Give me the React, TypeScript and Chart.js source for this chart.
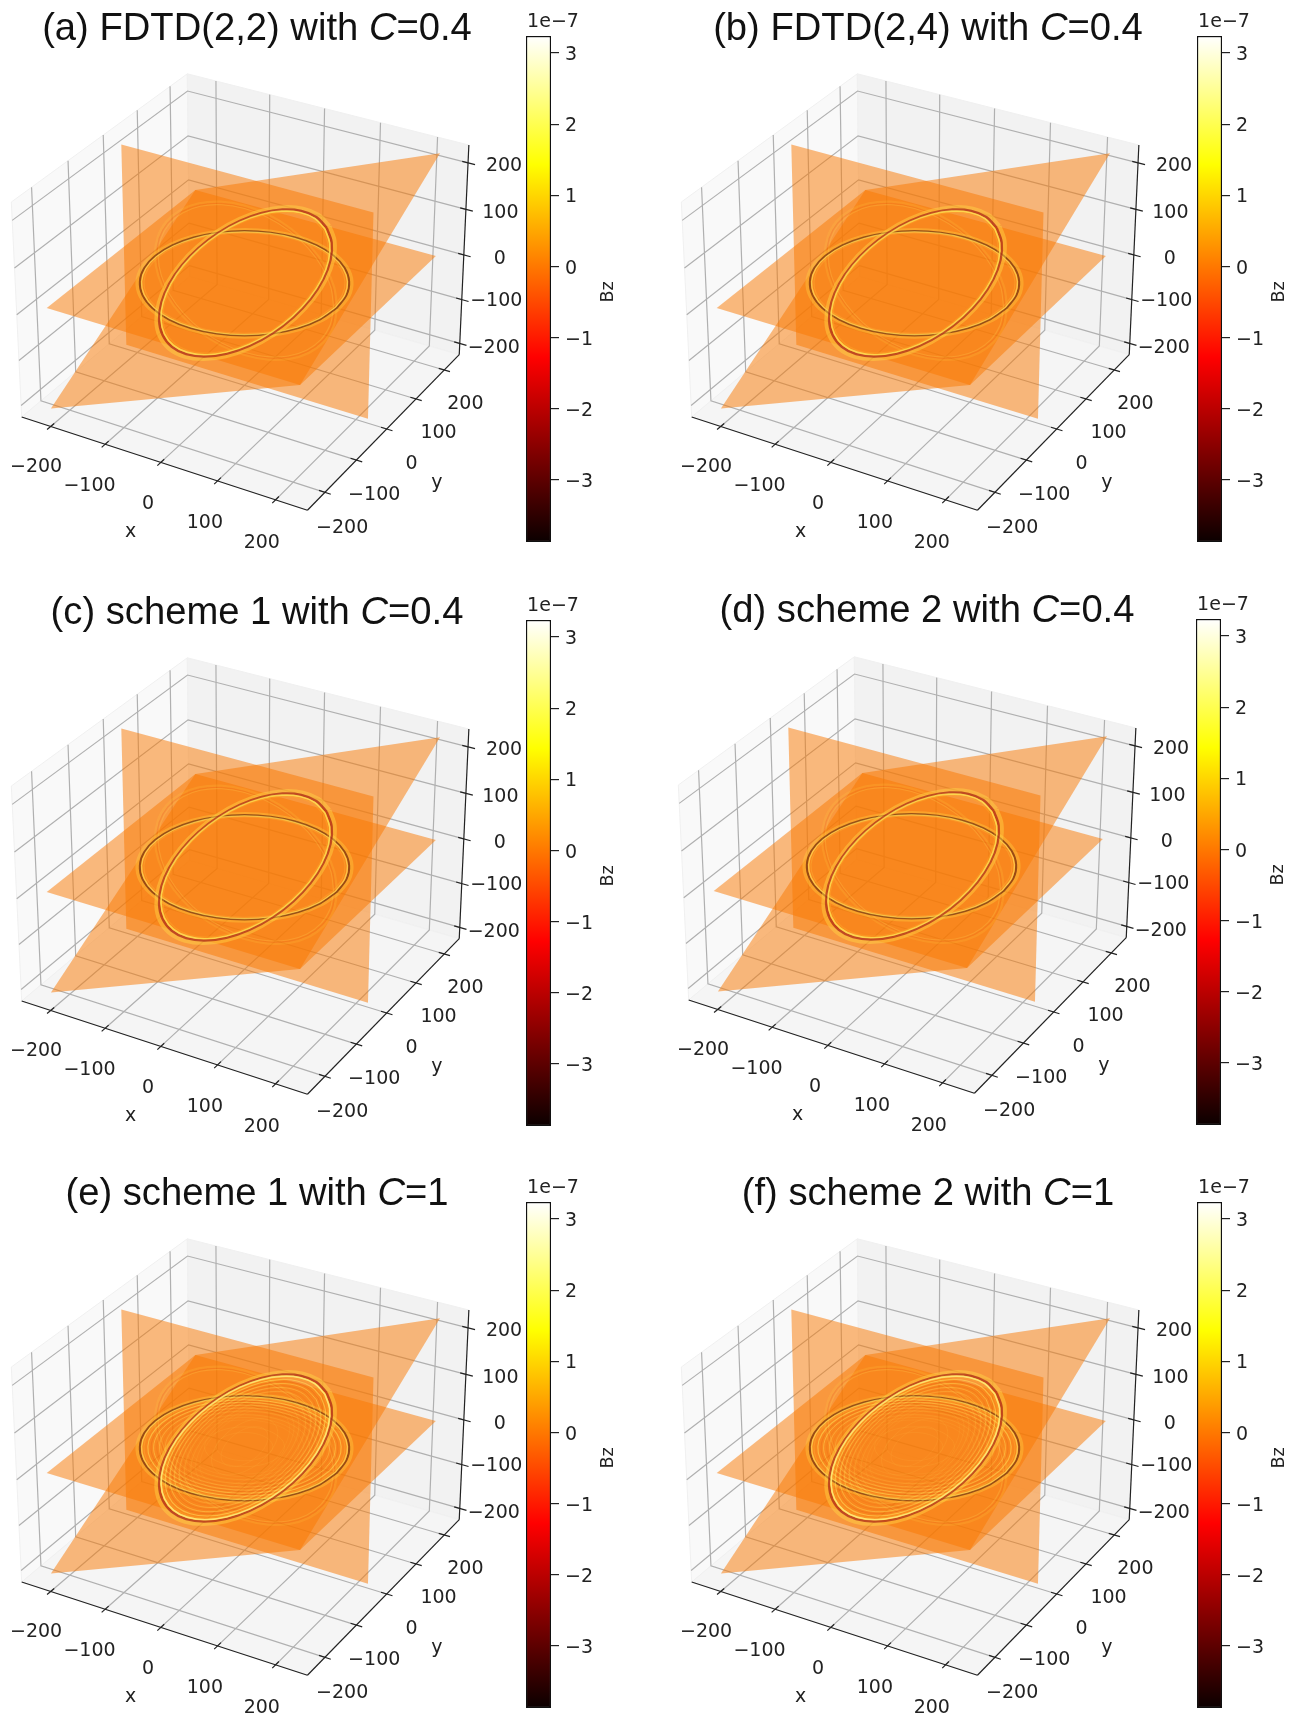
import React, { useEffect, useRef } from "react";
import { Chart, registerables } from "chart.js";
Chart.register(...registerables);

const SANS = '"DejaVu Sans"';
const xTicks = [-200, -100, 0, 100, 200];
const yTicks = [-200, -100, 0, 100, 200];
const zTicks = [-200, -100, 0, 100, 200];
const cbTicks = [-3, -2, -1, 0, 1, 2, 3];
const cbMin = -3.87;
const cbMax = 3.24;
const xLim = 254, yLim = 254, zLow = -226, zHigh = 238;
const planeHalf = 221, planeLow = -216, planeHigh = 228, planeMid = 6;
const hotStops: [number, string][] = [[0, "#0b0000"], [0.365, "#ff0000"], [0.746, "#ffff00"], [1, "#ffffff"]];

// plane corners (x,y,z)
const planeFlat = [[-planeHalf, -planeHalf, planeMid], [planeHalf, -planeHalf, planeMid], [planeHalf, planeHalf, planeMid], [-planeHalf, planeHalf, planeMid]];
const planeVertical = [[-planeHalf, 0, planeHigh], [planeHalf, 0, planeHigh], [planeHalf, 0, planeLow], [-planeHalf, 0, planeLow]];
const planeTilted = [[-planeHalf, -planeHalf, planeLow], [planeHalf, -planeHalf, planeMid], [planeHalf, planeHalf, planeHigh], [-planeHalf, planeHalf, planeMid]];

// in-plane axes of each wave-front ring
const flatAxes = [[1, 0, 0], [0, 1, 0]];
const verticalAxes = [[1, 0, 0], [0, 0, 1]];
const tiltedAxes = [[0.577, 0.577, 0.577], [0.707, -0.707, 0]];

// wave-front outline: direction table around the ring
const ringDirs = [
  [1, 0], [0.966, 0.259], [0.866, 0.5], [0.707, 0.707], [0.5, 0.866], [0.259, 0.966],
  [0, 1], [-0.259, 0.966], [-0.5, 0.866], [-0.707, 0.707], [-0.866, 0.5], [-0.966, 0.259],
  [-1, 0], [-0.966, -0.259], [-0.866, -0.5], [-0.707, -0.707], [-0.5, -0.866], [-0.259, -0.966],
  [0, -1], [0.259, -0.966], [0.5, -0.866], [0.707, -0.707], [0.866, -0.5], [0.966, -0.259], [1, 0],
];

const flatRings: [number, string, number][] = [
  [166.5, "rgba(255,215,70,.35)", 3.5], [162.5, "rgba(115,50,15,.72)", 1.9], [159.6, "rgba(255,225,90,.7)", 1.3], [156, "rgba(255,190,60,.3)", 1.2],
];
const verticalRings: [number, string, number][] = [
  [163, "rgba(255,210,70,.16)", 2.5], [160, "rgba(225,85,30,.18)", 1.1], [157, "rgba(255,220,90,.22)", 1.1],
];
const tiltedRings: [number, string, number][] = [
  [166.5, "rgba(255,215,70,.45)", 4.5], [161.5, "rgba(175,45,25,.75)", 2.6], [158, "rgba(255,225,80,.85)", 1.7], [154.5, "rgba(255,170,40,.4)", 1.3],
];
const rippleRings: [number, string, number][] = [
  [150, "rgba(255,225,90,.55)", 1.1], [145, "rgba(220,80,20,.3)", 0.9], [141, "rgba(255,225,90,.45)", 1], [136, "rgba(225,90,20,.25)", 0.9],
  [132, "rgba(255,220,90,.38)", 0.9], [127, "rgba(230,90,20,.2)", 0.9], [123, "rgba(255,215,90,.3)", 0.9], [118, "rgba(230,90,20,.16)", 0.9],
  [113, "rgba(255,210,80,.22)", 0.9], [107, "rgba(230,90,20,.13)", 0.9], [101, "rgba(255,205,80,.17)", 0.9], [92, "rgba(255,205,80,.13)", 0.9],
  [84, "rgba(255,200,80,.1)", 0.9], [62, "rgba(255,190,70,.14)", 1], [44, "rgba(255,190,70,.12)", 1],
];
const brightRings: [number, string, number][] = [[157.5, "rgba(255,245,150,.5)", 1.5]];

const panels = [
  { a: "(a) FDTD(2,2) with ", b: "=0.4", tx: 257, ty: 27, dx: 0, dy: 0, cdx: 0, cdy: 0, ripple: false },
  { a: "(b) FDTD(2,4) with ", b: "=0.4", tx: 928, ty: 27, dx: 670, dy: 0, cdx: 671, cdy: 0, ripple: false },
  { a: "(c) scheme 1 with ", b: "=0.4", tx: 257, ty: 611, dx: 0, dy: 584, cdx: 0, cdy: 584, ripple: false },
  { a: "(d) scheme 2 with ", b: "=0.4", tx: 927, ty: 609, dx: 667, dy: 583, cdx: 670, cdy: 583, ripple: false },
  { a: "(e) scheme 1 with ", b: "=1", tx: 257, ty: 1192, dx: 0, dy: 1165, cdx: 0, cdy: 1166, ripple: true },
  { a: "(f) scheme 2 with ", b: "=1", tx: 928, ty: 1192, dx: 670, dy: 1165, cdx: 671, cdy: 1166, ripple: true },
];

const W = 540, H = 570;
const pxX = 275, cxPx = 244.5, pxY = 274.5, cyPx = 281.5;

function project(x: number, y: number, z: number) {
  const zMid = (zLow + zHigh) / 2, zHalf = (zHigh - zLow) / 2;
  const px = (x / xLim) * 0.5952, py = (y / yLim) * 0.5952, pz = ((z - zMid) / zHalf) * 0.4464;
  const u = 0.866 * px + 0.5 * py;
  const v = -0.25 * px + 0.433 * py + 0.866 * pz;
  const w = 0.433 * px - 0.75 * py + 0.5 * pz;
  const s = 10 / (10 - w);
  return { x: u * s, y: v * s };
}
const path = (pts: number[][]) => pts.map((p) => project(p[0], p[1], p[2]));
const fmt = (v: number) => String(v).replace("-", "\u2212");

function line(pts: number[][], color: string, width: number, extra: any = {}) {
  return { data: path(pts), borderColor: color, borderWidth: width, pointRadius: 0, showLine: true, fill: false, tension: 0, clip: false, ...extra };
}
function poly(pts: number[][], fillCol: string, edge = "transparent") {
  return line([...pts, pts[0]], edge, edge === "transparent" ? 0 : 1, { fill: "shape", backgroundColor: fillCol });
}
function ring(axes: number[][], r: number, color: string, width: number) {
  const pts = ringDirs.map(([c, s]) => [
    r * (c * axes[0][0] + s * axes[1][0]),
    r * (c * axes[0][1] + s * axes[1][1]),
    planeMid + r * (c * axes[0][2] + s * axes[1][2]),
  ]);
  return line(pts, color, width, { tension: 0.35 });
}

function buildDatasets(ripple: boolean) {
  const L: any[] = [];
  const X = xLim, Y = yLim, Z0 = zLow, Z1 = zHigh;
  L.push(poly([[-X, -Y, Z0], [-X, Y, Z0], [-X, Y, Z1], [-X, -Y, Z1]], "rgb(249,249,249)", "rgb(240,240,240)"));
  L.push(poly([[-X, Y, Z0], [X, Y, Z0], [X, Y, Z1], [-X, Y, Z1]], "rgb(242,242,242)", "rgb(240,240,240)"));
  L.push(poly([[-X, -Y, Z0], [X, -Y, Z0], [X, Y, Z0], [-X, Y, Z0]], "rgb(245,245,245)", "rgb(240,240,240)"));
  const grid = "rgb(176,176,176)";
  xTicks.forEach((t) => L.push(line([[t, -Y, Z0], [t, Y, Z0], [t, Y, Z1]], grid, 1.2)));
  yTicks.forEach((t) => L.push(line([[X, t, Z0], [-X, t, Z0], [-X, t, Z1]], grid, 1.2)));
  zTicks.forEach((t) => L.push(line([[-X, -Y, t], [-X, Y, t], [X, Y, t]], grid, 1.2)));

  const orange = "rgba(250,120,0,0.5)";
  L.push(poly(planeTilted, orange));
  L.push(poly(planeFlat, orange));
  L.push(poly(planeVertical, orange));

  verticalRings.forEach(([r, c, w]) => L.push(ring(verticalAxes, r, c, w)));
  if (ripple) rippleRings.forEach(([r, c, w]) => L.push(ring(flatAxes, r, c, w)));
  flatRings.forEach(([r, c, w]) => L.push(ring(flatAxes, r, c, w)));
  if (ripple) rippleRings.forEach(([r, c, w]) => L.push(ring(tiltedAxes, r, c, w)));
  tiltedRings.forEach(([r, c, w]) => L.push(ring(tiltedAxes, r, c, w)));
  if (ripple) brightRings.forEach(([r, c, w]) => L.push(ring(tiltedAxes, r, c, w)));

  L.push(line([[-X, -Y, Z0], [X, -Y, Z0]], "#222", 1.2));
  L.push(line([[X, -Y, Z0], [X, Y, Z0]], "#222", 1.2));
  L.push(line([[X, Y, Z0], [X, Y, Z1]], "#222", 1.2));
  xTicks.forEach((t) => L.push(line([[t, -Y + 10, Z0], [t, -Y - 10, Z0]], "#222", 1.2)));
  yTicks.forEach((t) => L.push(line([[X - 10, t, Z0], [X + 10, t, Z0]], "#222", 1.2)));
  zTicks.forEach((t) => L.push(line([[X - 10, Y, t], [X + 12, Y, t]], "#222", 1.2)));
  return L.reverse();
}

const labelPlugin = {
  id: "labels3d",
  afterDraw(chart: any) {
    const { ctx, scales } = chart;
    const put = (txt: string, p: { x: number; y: number }, dx = 0, dy = 0) => {
      ctx.fillText(txt, scales.x.getPixelForValue(p.x) + dx, scales.y.getPixelForValue(p.y) + dy);
    };
    ctx.save();
    ctx.font = `19px ${SANS}`;
    ctx.fillStyle = "#222";
    ctx.textAlign = "center";
    ctx.textBaseline = "middle";
    const xNudge = [0, -1, 2, 2, 1];
    const yNudge = [-1, 0, 7.5, 5.5, 4.4];
    xTicks.forEach((t, i) => put(fmt(t), project(t, -yLim - 44, zLow - 62), xNudge[i]));
    yTicks.forEach((t, i) => put(fmt(t), project(xLim + 32, t, zLow - 66), yNudge[i]));
    const zShift = [34, 34.5, 36, 34.5, 36];
    const zDrop = [5, 2, 4, 4, 3];
    zTicks.forEach((t, i) => put(fmt(t), project(xLim, yLim, t), zShift[i], zDrop[i]));
    put("x", project(20, -yLim - 120, zLow - 60));
    put("y", project(xLim + 92, -20, zLow - 70), 4);
    ctx.restore();
  },
};

const colorbarPlugin = {
  id: "cbText",
  afterDraw(chart: any) {
    const { ctx } = chart;
    ctx.save();
    ctx.fillStyle = "#222";
    ctx.textBaseline = "middle";
    ctx.textAlign = "center";
    ctx.font = `19px ${SANS}`;
    ctx.fillText("1e\u22127", 33, 22);
    ctx.translate(88, 292);
    ctx.rotate(-Math.PI / 2);
    ctx.font = `17.5px ${SANS}`;
    ctx.fillText("Bz", 0, 0);
    ctx.restore();
  },
};

function Panel({ cfg }: { cfg: (typeof panels)[number] }) {
  const main = useRef<HTMLCanvasElement>(null);
  const bar = useRef<HTMLCanvasElement>(null);
  useEffect(() => {
    const c1 = new Chart(main.current!, {
      type: "scatter",
      data: { datasets: buildDatasets(cfg.ripple) },
      options: {
        animation: false, responsive: false, devicePixelRatio: 1,
        layout: { padding: 0, autoPadding: false },
        plugins: { legend: { display: false }, tooltip: { enabled: false }, title: { display: false } },
        scales: {
          x: { type: "linear", display: false, min: -cxPx / pxX, max: (W - cxPx) / pxX },
          y: { type: "linear", display: false, min: (cyPx - H) / pxY, max: cyPx / pxY },
        },
      } as any,
      plugins: [labelPlugin],
    } as any);
    const c2 = new Chart(bar.current!, {
      type: "bar",
      data: {
        labels: ["Bz"],
        datasets: [{
          data: [[cbMin, cbMax]],
          barPercentage: 1, categoryPercentage: 1,
          borderColor: "#111", borderWidth: 1.5, borderSkipped: false,
          backgroundColor: (ctx: any) => {
            const { chart } = ctx;
            if (!chart.chartArea) return "#000";
            const y = chart.scales.y;
            const g = chart.ctx.createLinearGradient(0, y.getPixelForValue(cbMin), 0, y.getPixelForValue(cbMax));
            hotStops.forEach(([f, c]) => g.addColorStop(f, c));
            return g;
          },
        }],
      },
      options: {
        animation: false, responsive: false, devicePixelRatio: 1,
        layout: { padding: { left: 6, right: 0, top: 36, bottom: 18 }, autoPadding: false },
        plugins: { legend: { display: false }, tooltip: { enabled: false } },
        scales: {
          x: { display: false },
          y: {
            position: "right", min: cbMin, max: cbMax,
            afterFit: (s: any) => { s.width = 94; },
            afterBuildTicks: (s: any) => { s.ticks = cbTicks.map((value) => ({ value })); },
            grid: { drawOnChartArea: false, drawTicks: true, tickLength: 8, color: "#222", lineWidth: 1.2 },
            border: { display: false },
            ticks: { padding: 6, labelOffset: 2, color: "#222", font: { family: SANS, size: 19 }, callback: (v: any) => fmt(v) },
          },
        },
      } as any,
      plugins: [colorbarPlugin],
    } as any);
    return () => { c1.destroy(); c2.destroy(); };
  }, [cfg]);
  const blur = "blur(0.7px)";
  return (
    <>
      <canvas ref={main} width={W} height={H} style={{ position: "absolute", left: cfg.dx, top: cfg.dy, width: W, height: H, filter: blur }} />
      <canvas ref={bar} width={125} height={560} style={{ position: "absolute", left: 520 + cfg.cdx, top: cfg.cdy, width: 125, height: 560, filter: blur }} />
      <div style={{ position: "absolute", left: cfg.tx - 300, top: cfg.ty - 24, width: 600, height: 48, lineHeight: "48px", textAlign: "center", fontFamily: '"Liberation Sans"', fontSize: 38.2, color: "#111", whiteSpace: "pre", filter: "blur(0.35px)" }}>
        {cfg.a}<i>C</i>{cfg.b}
      </div>
    </>
  );
}

export default function App() {
  return (
    <div style={{ position: "absolute", left: 0, top: 0, width: 1294, height: 1714, overflow: "hidden", background: "#fff" }}>
      {panels.map((p) => <Panel key={p.a} cfg={p} />)}
    </div>
  );
}
